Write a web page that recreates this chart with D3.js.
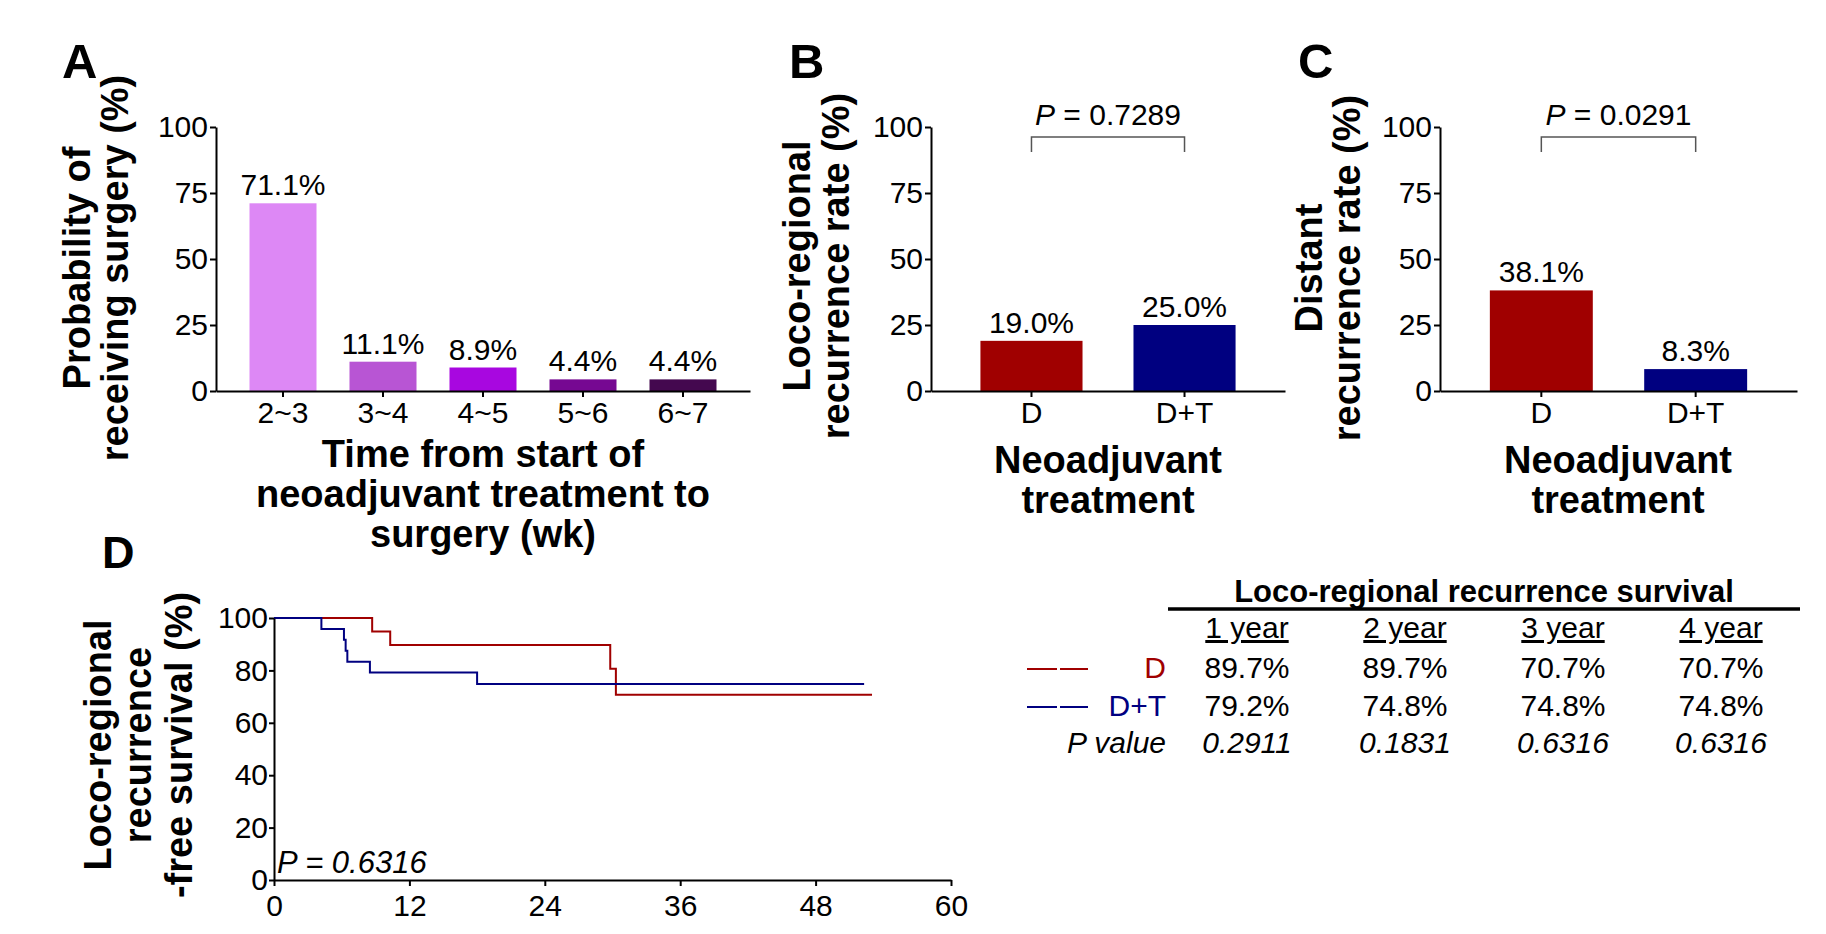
<!DOCTYPE html>
<html>
<head>
<meta charset="utf-8">
<script src="https://cdn.jsdelivr.net/npm/d3@7"></script>
<style>
  body { margin: 0; background: #fff; }
  text { font-family: "Liberation Sans", Arial, sans-serif; }
</style>
</head>
<body>
<svg id="fig" width="1826" height="934"></svg>
<script>
// panel A: time to surgery
const aCats = ["2~3", "3~4", "4~5", "5~6", "6~7"];
const aVals = [71.1, 11.1, 8.9, 4.4, 4.4];
const aColors = ["#dd88f5", "#b855d4", "#a807e0", "#760892", "#44084f"];

// panels B and C: recurrence by group
const groups = ["D", "D+T"];
const groupColors = ["#a00000", "#000080"];
const locoVals = [19.0, 25.0];
const distantVals = [38.1, 8.3];
const locoP = "0.7289";
const distantP = "0.0291";

const pctTicks = [0, 25, 50, 75, 100];

// panel D: Kaplan-Meier steps [week, survival %]
const kmD = [[0, 100], [8.7, 94.8], [10.3, 89.7], [29.8, 80.6], [30.3, 70.7], [53.0, 70.7]];
const kmDT = [[0, 100], [4.2, 95.8], [6.2, 91.7], [6.35, 87.5], [6.5, 83.3], [8.5, 79.2], [18.0, 74.8], [52.3, 74.8]];
const kmXTicks = [0, 12, 24, 36, 48, 60];
const kmYTicks = [0, 20, 40, 60, 80, 100];
const kmP = "0.6316";

// survival table
const years = ["1 year", "2 year", "3 year", "4 year"];
const survD = ["89.7%", "89.7%", "70.7%", "70.7%"];
const survDT = ["79.2%", "74.8%", "74.8%", "74.8%"];
const survP = ["0.2911", "0.1831", "0.6316", "0.6316"];

const svg = d3.select("#fig");

function styleAxis(g, size) {
  g.selectAll("path, line").attr("stroke", "#000").attr("stroke-width", 2);
  g.selectAll("text").attr("font-size", size).attr("fill", "#000")
    .attr("font-family", '"Liberation Sans", Arial, sans-serif');
}

function rotTitle(lines, xs, cy) {
  lines.forEach((t, i) => {
    svg.append("text")
      .attr("transform", `translate(${xs[i]},${cy}) rotate(-90)`)
      .attr("text-anchor", "middle")
      .attr("font-size", 38).attr("font-weight", "bold")
      .text(t);
  });
}

function centerTitle(lines, cx, ys) {
  lines.forEach((t, i) => {
    svg.append("text")
      .attr("x", cx).attr("y", ys[i])
      .attr("text-anchor", "middle")
      .attr("font-size", 38).attr("font-weight", "bold")
      .text(t);
  });
}

function panelLetter(t, x, y, size) {
  svg.append("text").attr("x", x).attr("y", y)
    .attr("font-size", size).attr("font-weight", "bold").text(t);
}

// shared y scale for A, B, C
const yPct = d3.scaleLinear().domain([0, 100]).range([391, 127]);

function barPanel(x0, x1, cats, vals, colors, pi, po) {
  const x = d3.scaleBand().domain(cats).range([x0, x1]).paddingInner(pi).paddingOuter(po);
  const g = svg.append("g");
  g.selectAll("rect").data(vals).join("rect")
    .attr("x", (d, i) => x(cats[i]))
    .attr("width", x.bandwidth())
    .attr("y", d => yPct(d))
    .attr("height", d => yPct(0) - yPct(d))
    .attr("fill", (d, i) => colors[i]);
  g.selectAll("text.lab").data(vals).join("text")
    .attr("class", "lab")
    .attr("x", (d, i) => x(cats[i]) + x.bandwidth() / 2)
    .attr("y", d => yPct(d) - 8)
    .attr("text-anchor", "middle")
    .attr("font-size", 30)
    .text(d => d.toFixed(1) + "%");

  const ya = svg.append("g").attr("transform", `translate(${x0},0)`)
    .call(d3.axisLeft(yPct).tickValues(pctTicks).tickSize(6).tickPadding(2).tickSizeOuter(0));
  styleAxis(ya, 30);
  const xa = svg.append("g").attr("transform", `translate(0,${yPct(0)})`)
    .call(d3.axisBottom(x).tickSize(6).tickPadding(5).tickSizeOuter(0));
  styleAxis(xa, 30);
  return x;
}

function bracket(x, p) {
  const xa = x(groups[0]) + x.bandwidth() / 2;
  const xb = x(groups[1]) + x.bandwidth() / 2;
  svg.append("path")
    .attr("d", `M${xa},152V137H${xb}V152`)
    .attr("fill", "none").attr("stroke", "#555").attr("stroke-width", 1.5);
  const t = svg.append("text").attr("x", (xa + xb) / 2).attr("y", 125)
    .attr("text-anchor", "middle").attr("font-size", 30);
  t.append("tspan").attr("font-style", "italic").text("P");
  t.append("tspan").text(" = " + p);
}

// ---- A
panelLetter("A", 62, 78, 49);
barPanel(216, 750, aCats, aVals, aColors, 0.33, 0.335);
rotTitle(["Probability of", "receiving surgery (%)"], [90, 128], 268);
centerTitle(["Time from start of", "neoadjuvant treatment to", "surgery (wk)"], 483, [467, 507, 547]);

// ---- B
panelLetter("B", 789, 78, 49);
const xB = barPanel(931, 1285, groups, locoVals, groupColors, 0.333, 0.323);
bracket(xB, locoP);
rotTitle(["Loco-regional", "recurrence rate (%)"], [810, 849], 266);
centerTitle(["Neoadjuvant", "treatment"], 1108, [473, 513]);

// ---- C
panelLetter("C", 1298, 78, 49);
const xC = barPanel(1440, 1797, groups, distantVals, groupColors, 0.333, 0.323);
bracket(xC, distantP);
rotTitle(["Distant", "recurrence rate (%)"], [1322, 1360], 268);
centerTitle(["Neoadjuvant", "treatment"], 1618, [473, 513]);

// ---- D: Kaplan-Meier
panelLetter("D", 102, 568, 45);
const kx = d3.scaleLinear().domain([0, 60]).range([274, 951]);
const ky = d3.scaleLinear().domain([0, 100]).range([880, 618]);
const kmLine = d3.line().x(d => kx(d[0])).y(d => ky(d[1])).curve(d3.curveStepAfter);
svg.append("path").datum(kmD).attr("d", kmLine)
  .attr("fill", "none").attr("stroke", groupColors[0]).attr("stroke-width", 2);
svg.append("path").datum(kmDT).attr("d", kmLine)
  .attr("fill", "none").attr("stroke", groupColors[1]).attr("stroke-width", 2);
const kya = svg.append("g").attr("transform", `translate(274,0)`)
  .call(d3.axisLeft(ky).tickValues(kmYTicks).tickSize(5).tickPadding(1).tickSizeOuter(0));
styleAxis(kya, 30);
const kxa = svg.append("g").attr("transform", `translate(0,880)`)
  .call(d3.axisBottom(kx).tickValues(kmXTicks).tickSize(6).tickPadding(9).tickSizeOuter(0));
styleAxis(kxa, 30);
svg.append("text").attr("x", 277).attr("y", 873)
  .attr("font-size", 31).attr("font-style", "italic")
  .text("P = " + kmP);
rotTitle(["Loco-regional", "recurrence", "-free survival (%)"], [111, 151, 192], 745);

// ---- survival table
const col = d3.scaleBand().domain(years).range([1168, 1800]);
const cx = d => col(d) + col.bandwidth() / 2;
svg.append("text").attr("x", 1484).attr("y", 602)
  .attr("text-anchor", "middle").attr("font-size", 31).attr("font-weight", "bold")
  .text("Loco-regional recurrence survival");
svg.append("line").attr("x1", 1168).attr("x2", 1800).attr("y1", 609).attr("y2", 609)
  .attr("stroke", "#000").attr("stroke-width", 3.3);
svg.selectAll("text.yr").data(years).join("text").attr("class", "yr")
  .attr("x", d => cx(d)).attr("y", 638)
  .attr("text-anchor", "middle").attr("font-size", 30)
  .attr("text-decoration", "underline")
  .text(d => d);

const rows = [
  { label: "D", vals: survD, color: groupColors[0], y: 678, italic: false, legend: true },
  { label: "D+T", vals: survDT, color: groupColors[1], y: 716, italic: false, legend: true },
  { label: "P value", vals: survP, color: "#000", y: 753, italic: true, legend: false }
];
rows.forEach(r => {
  svg.append("text").attr("x", 1166).attr("y", r.y)
    .attr("text-anchor", "end").attr("font-size", 30)
    .attr("fill", r.color).attr("font-style", r.italic ? "italic" : "normal")
    .text(r.label);
  if (r.legend) {
    svg.append("line").attr("x1", 1027).attr("x2", 1088)
      .attr("y1", r.y - 9).attr("y2", r.y - 9)
      .attr("stroke", r.color).attr("stroke-width", 2)
      .attr("stroke-dasharray", "30,3");
  }
  svg.selectAll(null).data(r.vals).join("text")
    .attr("x", (d, i) => cx(years[i])).attr("y", r.y)
    .attr("text-anchor", "middle").attr("font-size", 30)
    .attr("font-style", r.italic ? "italic" : "normal")
    .text(d => d);
});
</script>
</body>
</html>
